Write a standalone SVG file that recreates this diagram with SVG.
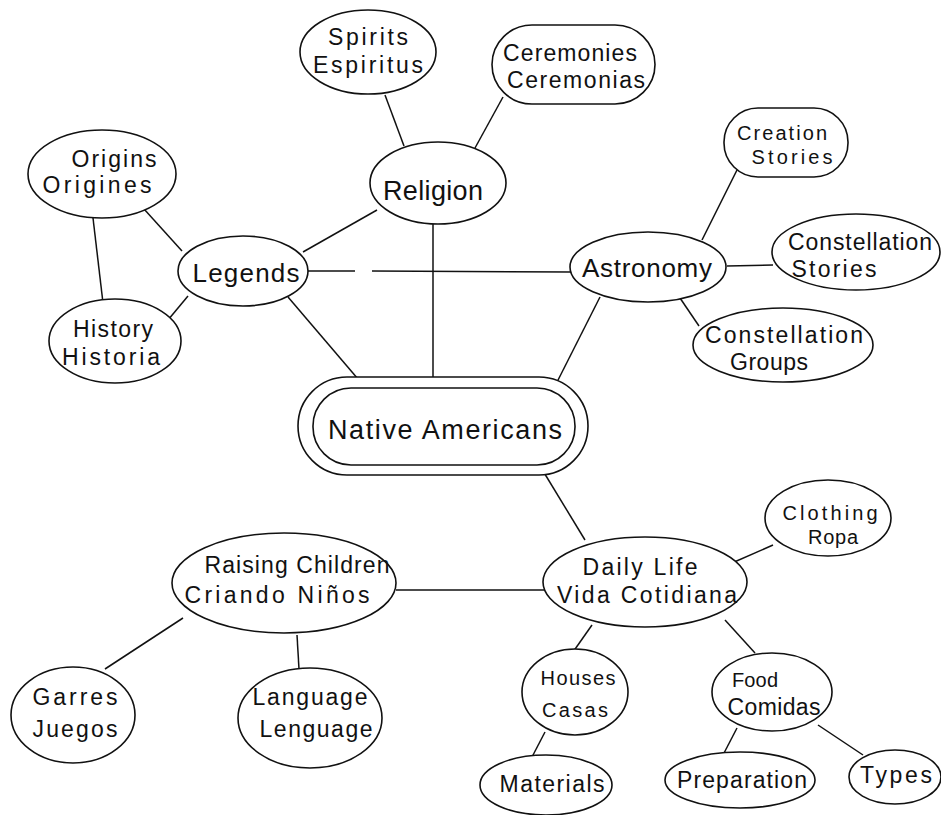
<svg xmlns="http://www.w3.org/2000/svg" width="941" height="815" viewBox="0 0 941 815">
<style>
.n{fill:#fff;stroke:#111;stroke-width:1.6}
.c line{stroke:#111;stroke-width:1.5}
text{font-family:"Liberation Sans","Open Sans",sans-serif;font-size:23px;fill:#111;text-anchor:middle}
.big{font-size:27px}
.mid{font-size:26px}
.sm{font-size:20px}
</style>
<rect width="941" height="815" fill="#fff"/>
<g class="c" id="connectors">
<line x1="385" y1="95" x2="404" y2="146"/>
<line x1="503" y1="97" x2="475" y2="148"/>
<line x1="377" y1="210" x2="303" y2="252"/>
<line x1="433" y1="224" x2="433" y2="378"/>
<line x1="144" y1="209" x2="182" y2="251"/>
<line x1="93" y1="218" x2="103" y2="303"/>
<line x1="188" y1="296" x2="168" y2="320"/>
<line x1="288" y1="297" x2="358" y2="379"/>
<line x1="308" y1="271" x2="355" y2="271"/>
<line x1="372" y1="271" x2="572" y2="272"/>
<line x1="702" y1="240" x2="737" y2="170"/>
<line x1="727" y1="266" x2="773" y2="265"/>
<line x1="680" y1="298" x2="699" y2="326"/>
<line x1="600" y1="297" x2="553" y2="390"/>
<line x1="540" y1="466" x2="585" y2="540"/>
<line x1="732" y1="563" x2="773" y2="545"/>
<line x1="396" y1="590" x2="544" y2="590"/>
<line x1="592" y1="625" x2="573" y2="652"/>
<line x1="725" y1="620" x2="755" y2="653"/>
<line x1="545" y1="732" x2="532" y2="757"/>
<line x1="737" y1="728" x2="723" y2="755"/>
<line x1="818" y1="725" x2="863" y2="755"/>
<line x1="183" y1="618" x2="105" y2="669"/>
<line x1="297" y1="635" x2="299" y2="669"/>
</g>
<g id="spirits"><ellipse class="n" cx="368" cy="52" rx="68" ry="42"/><text x="368" y="45" textLength="80">Spirits</text><text x="368" y="73" textLength="110">Espiritus</text></g>
<g id="ceremonies"><rect class="n" x="492" y="25" width="163" height="79" rx="40"/><text x="570" y="61" textLength="134">Ceremonies</text><text x="576" y="88" textLength="138">Ceremonias</text></g>
<g id="religion"><ellipse class="n" cx="438" cy="183" rx="68" ry="41"/><text class="big" x="433" y="200" textLength="100">Religion</text></g>
<g id="origins"><ellipse class="n" cx="102" cy="174" rx="74" ry="44"/><text x="114" y="167" textLength="85">Origins</text><text x="97" y="193" textLength="109">Origines</text></g>
<g id="legends"><ellipse class="n" cx="243" cy="271" rx="65" ry="35"/><text class="mid" x="246" y="282" textLength="107">Legends</text></g>
<g id="history"><ellipse class="n" cx="115" cy="341" rx="66" ry="42"/><text x="113" y="337" textLength="80">History</text><text x="111" y="365" textLength="98">Historia</text></g>
<g id="creation"><rect class="n" x="724" y="108" width="124" height="69" rx="34"/><text class="sm" x="782" y="140" textLength="90">Creation</text><text class="sm" x="792" y="164" textLength="81">Stories</text></g>
<g id="astronomy"><ellipse class="n" cx="648" cy="267" rx="78" ry="35"/><text class="mid" x="647" y="277" textLength="130">Astronomy</text></g>
<g id="conststories"><ellipse class="n" cx="856" cy="252" rx="84" ry="38"/><text x="860" y="250" textLength="144">Constellation</text><text x="834" y="277" textLength="85">Stories</text></g>
<g id="constgroups"><ellipse class="n" cx="783" cy="345" rx="90" ry="37"/><text x="784" y="343" textLength="158">Constellation</text><text x="769" y="370" textLength="78">Groups</text></g>
<g id="native"><rect class="n" x="298" y="377" width="290" height="98" rx="49"/><rect class="n" x="313" y="388" width="262" height="77" rx="38"/><text class="big" x="445" y="439" textLength="234">Native Americans</text></g>
<g id="dailylife"><ellipse class="n" cx="645" cy="582" rx="102" ry="45"/><text x="640" y="575" textLength="115">Daily Life</text><text x="647" y="603" textLength="180">Vida Cotidiana</text></g>
<g id="clothing"><ellipse class="n" cx="828" cy="518" rx="63" ry="38"/><text class="sm" x="830" y="520" textLength="95">Clothing</text><text class="sm" x="833" y="544" textLength="50">Ropa</text></g>
<g id="houses"><ellipse class="n" cx="575" cy="692" rx="53" ry="43"/><text class="sm" x="578" y="685" textLength="75">Houses</text><text class="sm" x="575" y="717" textLength="66">Casas</text></g>
<g id="food"><ellipse class="n" cx="772" cy="692" rx="60" ry="39"/><text class="sm" x="755" y="687" textLength="46">Food</text><text x="774" y="715" textLength="93">Comidas</text></g>
<g id="materials"><ellipse class="n" cx="546" cy="785" rx="66" ry="30"/><text x="552" y="792" textLength="105">Materials</text></g>
<g id="preparation"><ellipse class="n" cx="740" cy="780" rx="75" ry="28"/><text x="742" y="788" textLength="130">Preparation</text></g>
<g id="types"><ellipse class="n" cx="895" cy="777" rx="46" ry="27"/><text x="896" y="783" textLength="72">Types</text></g>
<g id="raising"><ellipse class="n" cx="284" cy="583" rx="112" ry="50"/><text x="297" y="573" textLength="185">Raising Children</text><text x="277" y="603" textLength="185">Criando Niños</text></g>
<g id="games"><ellipse class="n" cx="73" cy="715" rx="62" ry="48"/><text x="75" y="705" textLength="85">Garres</text><text x="75" y="737" textLength="85">Juegos</text></g>
<g id="language"><ellipse class="n" cx="310" cy="718" rx="72" ry="50"/><text x="310" y="705" textLength="115">Language</text><text x="316" y="737" textLength="113">Lenguage</text></g>
</svg>
